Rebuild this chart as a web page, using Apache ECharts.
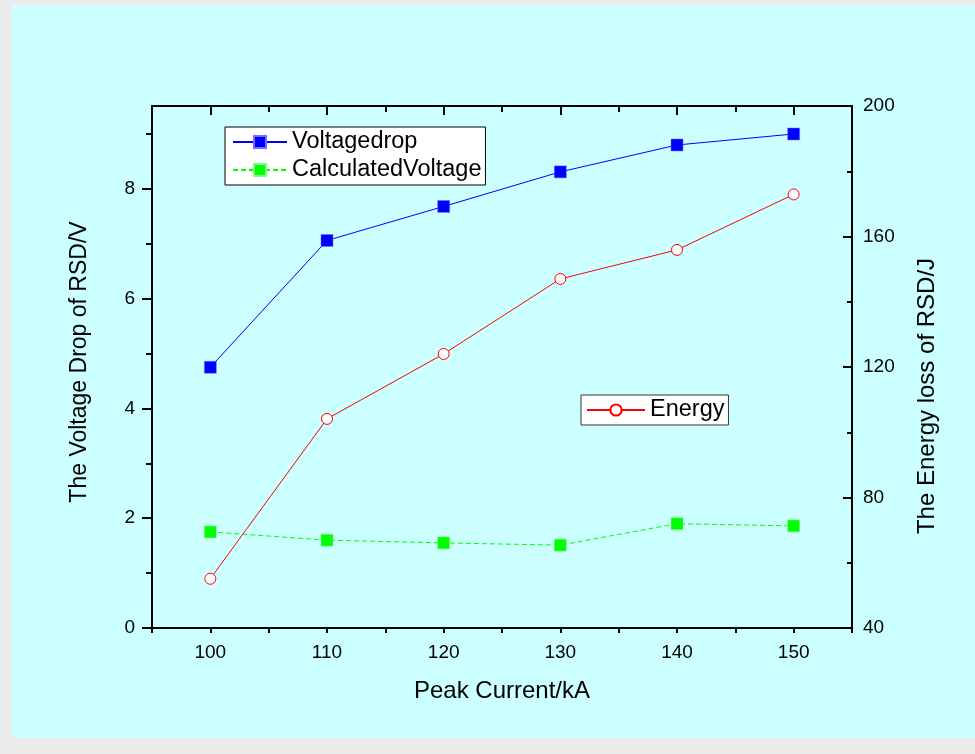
<!DOCTYPE html>
<html>
<head>
<meta charset="utf-8">
<script src="https://cdn.jsdelivr.net/npm/echarts@6/dist/echarts.min.js"></script>
<style>
html,body{margin:0;padding:0;background:#ebebeb;}
#chart{width:975px;height:754px;}
</style>
</head>
<body>
<div id="chart"></div>
<script>
// ---- data ----
var peakCurrent = [100, 110, 120, 130, 140, 150];
var voltageDrop = [4.75, 7.06, 7.68, 8.31, 8.80, 9.00];
var calculatedVoltage = [1.75, 1.60, 1.55, 1.51, 1.90, 1.86];
var energy = [55.1, 104.1, 124.0, 147.0, 155.9, 172.9];

var xLabelValues = [100, 110, 120, 130, 140, 150];
var xMinorTicks = [95, 105, 115, 125, 135, 145, 155];
var yLeftLabels = [0, 2, 4, 6, 8];
var yLeftMinor = [1, 3, 5, 7, 9];
var yRightLabels = [40, 80, 120, 160, 200];
var yRightMinor = [60, 100, 140, 180];

var FONT = '"Liberation Sans", Arial, sans-serif';

function pairs(xs, ys) {
  return xs.map(function (x, i) { return [x, ys[i]]; });
}

var chart = echarts.init(document.getElementById('chart'), null, {renderer: 'canvas'});

function axLine(show) {
  return {show: show, onZero: false, lineStyle: {color: '#000', width: 2}};
}

var option = {
  backgroundColor: '#ebebeb',
  animation: false,
  textStyle: {fontFamily: FONT},
  graphic: [
    {type: 'rect', z: -10, silent: true,
     shape: {x: 12, y: 5, width: 963, height: 733},
     style: {fill: '#ccffff'}},
    {type: 'text', z: 10, x: 80, y: 362, rotation: Math.PI / 2,
     style: {text: 'The Voltage Drop of RSD/V', font: '23px ' + FONT, fill: '#000',
             align: 'center', verticalAlign: 'middle'}},
    {type: 'text', z: 10, x: 927, y: 396, rotation: Math.PI / 2,
     style: {text: 'The Energy loss of RSD/J', font: '24px ' + FONT, fill: '#000',
             align: 'center', verticalAlign: 'middle'}},
    {type: 'text', z: 10, x: 502, y: 691,
     style: {text: 'Peak Current/kA', font: '24px ' + FONT, fill: '#000',
             align: 'center', verticalAlign: 'middle'}}
  ],
  grid: {left: 152, right: 123, top: 106, bottom: 126, containLabel: false},
  legend: [
    {
      data: ['Voltagedrop', 'CalculatedVoltage'],
      orient: 'vertical', left: 225, top: 127,
      backgroundColor: '#fff', borderColor: '#000', borderWidth: 1,
      padding: [3, 4, 3, 7], itemGap: 4, itemWidth: 54, itemHeight: 15,
      textStyle: {fontSize: 23.5, color: '#000', fontFamily: FONT, lineHeight: 24},
      selectedMode: false
    },
    {
      data: ['Energy'],
      orient: 'vertical', left: 581, top: 395,
      backgroundColor: '#fff', borderColor: '#333', borderWidth: 1,
      padding: [3, 4, 3, 5], itemWidth: 58, itemHeight: 14,
      textStyle: {fontSize: 23.5, color: '#000', fontFamily: FONT, lineHeight: 24},
      selectedMode: false
    }
  ],
  xAxis: [
    {
      type: 'value', position: 'bottom', min: 95, max: 155,
      axisLine: axLine(true), splitLine: {show: false},
      axisTick: {show: true, inside: false, length: 5, customValues: xMinorTicks.concat(xLabelValues),
                 lineStyle: {color: '#000', width: 2}},
      axisLabel: {show: true, customValues: xLabelValues, margin: 15, fontSize: 19, color: '#000', fontFamily: FONT}
    },
    {
      type: 'value', position: 'top', min: 95, max: 155,
      axisLine: axLine(true), splitLine: {show: false},
      axisTick: {show: true, inside: true, length: 9, customValues: xLabelValues,
                 lineStyle: {color: '#000', width: 2}},
      axisLabel: {show: false}
    },
    {
      type: 'value', position: 'top', min: 95, max: 155,
      axisLine: axLine(false), splitLine: {show: false},
      axisTick: {show: true, inside: true, length: 6, customValues: xMinorTicks,
                 lineStyle: {color: '#000', width: 2}},
      axisLabel: {show: false}
    }
  ],
  yAxis: [
    {
      type: 'value', position: 'left', min: 0, max: 9.51,
      axisLine: axLine(true), splitLine: {show: false},
      axisTick: {show: true, inside: false, length: 10, customValues: yLeftLabels,
                 lineStyle: {color: '#000', width: 2}},
      axisLabel: {show: true, customValues: yLeftLabels, margin: 17, fontSize: 19, color: '#000', fontFamily: FONT}
    },
    {
      type: 'value', position: 'right', min: 40, max: 200,
      axisLine: axLine(true), splitLine: {show: false},
      axisTick: {show: true, inside: true, length: 9, customValues: yRightLabels,
                 lineStyle: {color: '#000', width: 2}},
      axisLabel: {show: true, customValues: yRightLabels, margin: 11, fontSize: 19, color: '#000', fontFamily: FONT}
    },
    {
      type: 'value', position: 'left', min: 0, max: 9.51,
      axisLine: axLine(false), splitLine: {show: false},
      axisTick: {show: true, inside: false, length: 6, customValues: yLeftMinor,
                 lineStyle: {color: '#000', width: 2}},
      axisLabel: {show: false}
    },
    {
      type: 'value', position: 'right', min: 40, max: 200,
      axisLine: axLine(false), splitLine: {show: false},
      axisTick: {show: true, inside: true, length: 5, customValues: yRightMinor,
                 lineStyle: {color: '#000', width: 2}},
      axisLabel: {show: false}
    }
  ],
  series: [
    {
      name: 'Voltagedrop', type: 'line', xAxisIndex: 0, yAxisIndex: 0,
      data: pairs(peakCurrent, voltageDrop),
      symbol: 'rect', symbolSize: 12,
      lineStyle: {color: '#0000ff', width: 1},
      itemStyle: {color: '#0000ff', borderColor: '#6f6fff', borderWidth: 0.5},
      z: 3
    },
    {
      name: 'CalculatedVoltage', type: 'line', xAxisIndex: 0, yAxisIndex: 0,
      data: pairs(peakCurrent, calculatedVoltage),
      symbol: 'rect', symbolSize: 12,
      lineStyle: {color: '#00ff00', width: 1, type: [5, 3]},
      itemStyle: {color: '#00ff00', borderColor: '#7fff7f', borderWidth: 0.5},
      z: 3
    },
    {
      name: 'Energy', type: 'line', xAxisIndex: 0, yAxisIndex: 1,
      data: pairs(peakCurrent, energy),
      symbol: 'circle', symbolSize: 11,
      lineStyle: {color: '#ff0000', width: 1},
      itemStyle: {color: '#ffffff', borderColor: '#ff0000', borderWidth: 1},
      z: 4
    }
  ]
};
chart.setOption(option);
</script>
</body>
</html>
